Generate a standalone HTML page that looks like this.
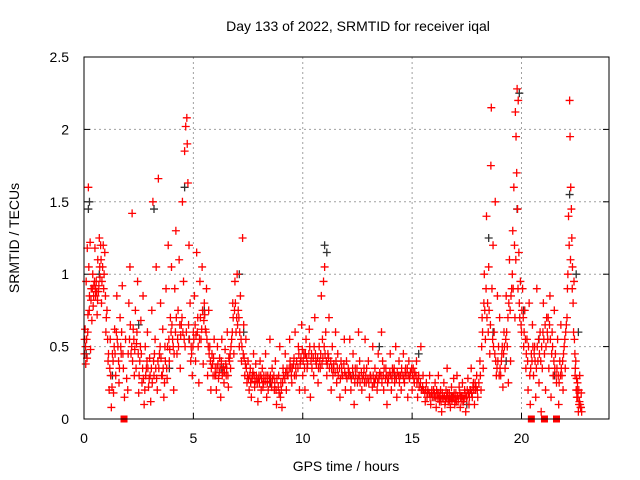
<!DOCTYPE html>
<html><head><meta charset="utf-8"><title>SRMTID iqal</title>
<style>
html,body{margin:0;padding:0;background:#fff;}
svg{display:block;font-family:"Liberation Sans",sans-serif;}
</style></head>
<body>
<svg id="chart" width="640" height="480" viewBox="0 0 640 480" xmlns="http://www.w3.org/2000/svg">
<rect x="0" y="0" width="640" height="480" fill="#fff"/>
<text x="358" y="31" font-size="14" text-anchor="middle" fill="#000">Day 133 of 2022, SRMTID for receiver iqal</text>
<g id="grid"></g>
<g id="ticks"></g>
<g id="marks"></g>
<rect x="84" y="57" width="525" height="362" fill="none" stroke="#000" stroke-width="1"/>
<text x="346" y="471" font-size="14" text-anchor="middle">GPS time / hours</text>
<text transform="translate(19,238) rotate(-90)" font-size="14" text-anchor="middle">SRMTID / TECUs</text>
</svg>
<script>
const xTicks=[0,5,10,15,20];
const yTicks=[0,0.5,1,1.5,2,2.5];
const yTickLabels=["0","0.5","1","1.5","2","2.5"];
const redSquares=[1.83,20.45,21.05,21.6];
const blackPts=[[0.1,0.45],[0.2,1.45],[0.25,1.5],[0.7,1.0],[1.3,0.3],[2.5,0.65],[3.2,1.45],[3.9,0.35],[4.6,1.6],[4.8,0.55],[5.5,0.75],[6.3,0.35],[7.1,1.0],[7.3,0.6],[8.5,0.25],[9.3,0.3],[11.0,1.2],[11.1,1.15],[12.3,0.3],[13.5,0.5],[14.2,0.3],[15.3,0.45],[16.0,0.15],[16.8,0.15],[17.5,0.1],[18.5,1.25],[18.7,0.6],[19.3,0.4],[19.8,1.45],[19.9,2.25],[20.1,0.75],[20.8,0.55],[21.5,0.3],[22.2,1.55],[22.5,1.0],[22.6,0.6]];
const redPts=[
[0.02,0.45],[0.05,0.62],[0.08,0.38],[0.1,0.95],[0.12,0.55],[0.15,1.18],[0.18,0.72],[0.2,1.6],[0.22,1.05],[0.25,0.85],[0.28,1.22],[0.3,0.48],[0.33,0.9],[0.36,0.68],[0.4,1.0],[0.42,0.78],[0.45,0.92],[0.5,1.18],[0.53,0.85],[0.56,0.95],[0.6,0.72],[0.63,1.1],[0.66,0.88],[0.7,1.25],[0.73,0.98],[0.76,1.2],[0.8,0.8],[0.85,1.05],[0.9,0.9],[0.95,1.15],[1.0,0.6],[1.05,0.75],[1.1,0.4],[1.15,0.2],[1.2,0.55],[1.25,0.08],[1.3,0.45],[1.35,0.18],[1.4,0.62],[1.45,0.3],[1.5,0.85],[1.55,0.5],[1.6,0.25],[1.65,0.7],[1.7,0.45],[1.75,0.92],[1.8,0.35],[1.85,0.15],[1.9,0.55],[1.95,0.28],
[2.0,0.2],[2.05,0.8],[2.1,1.05],[2.15,0.45],[2.2,1.42],[2.25,0.62],[2.3,0.3],[2.35,0.75],[2.4,0.52],[2.45,0.95],[2.5,0.18],[2.55,0.4],[2.6,0.68],[2.65,0.25],[2.7,0.85],[2.75,0.1],[2.8,0.5],[2.85,0.35],[2.9,0.6],[2.95,0.22],[3.0,0.42],[3.05,0.12],[3.1,0.75],[3.15,1.5],[3.2,0.3],[3.25,0.55],[3.3,1.05],[3.35,0.2],[3.4,1.66],[3.45,0.45],[3.5,0.8],[3.55,0.3],[3.6,0.62],[3.65,0.15],[3.7,0.5],[3.75,0.9],[3.8,0.28],[3.85,1.2],[3.9,0.4],[3.95,0.7],
[4.0,1.05],[4.05,0.55],[4.1,0.2],[4.15,0.9],[4.2,1.3],[4.25,0.45],[4.3,0.75],[4.35,1.1],[4.4,0.35],[4.45,0.65],[4.5,1.5],[4.55,0.95],[4.6,1.85],[4.65,2.02],[4.7,2.08],[4.72,1.9],[4.75,1.63],[4.8,1.2],[4.85,0.8],[4.9,0.5],[4.95,0.3],[5.0,0.6],[5.05,0.85],[5.1,0.4],[5.15,1.15],[5.2,0.7],[5.25,0.25],[5.3,0.95],[5.35,0.55],[5.4,1.05],[5.45,0.38],[5.5,0.8],[5.55,0.62],[5.6,0.9],[5.65,0.3],[5.7,0.75],[5.75,0.5],[5.8,0.2],[5.85,0.45],[5.9,0.3],[5.95,0.55],
[6.0,0.35],[6.05,0.2],[6.1,0.5],[6.15,0.28],[6.2,0.42],[6.25,0.15],[6.3,0.55],[6.35,0.32],[6.4,0.25],[6.45,0.48],[6.5,0.3],[6.55,0.6],[6.6,0.22],[6.65,0.4],[6.7,0.35],[6.75,0.55],[6.8,0.8],[6.85,0.45],[6.9,0.95],[6.95,0.6],[7.0,1.0],[7.05,0.75],[7.1,0.5],[7.15,0.85],[7.2,0.4],[7.25,1.25],[7.3,0.65],[7.35,0.3],[7.4,0.55],[7.45,0.25],[7.5,0.4],[7.55,0.2],[7.6,0.35],[7.65,0.15],[7.7,0.3],[7.75,0.45],[7.8,0.22],[7.85,0.38],[7.9,0.28],[7.95,0.12],
[8.0,0.3],[8.05,0.4],[8.1,0.2],[8.15,0.35],[8.2,0.25],[8.3,0.45],[8.35,0.15],[8.4,0.3],[8.5,0.55],[8.55,0.25],[8.6,0.35],[8.7,0.2],[8.75,0.4],[8.8,0.1],[8.9,0.3],[8.95,0.5],[9.0,0.25],[9.05,0.08],[9.1,0.35],[9.2,0.45],[9.25,0.2],[9.3,0.3],[9.4,0.55],[9.45,0.35],[9.5,0.25],[9.6,0.42],[9.65,0.6],[9.7,0.3],[9.8,0.5],[9.85,0.2],[9.9,0.4],[9.95,0.65],
[10.0,0.3],[10.05,0.45],[10.1,0.2],[10.15,0.55],[10.2,0.35],[10.3,0.62],[10.35,0.15],[10.4,0.45],[10.5,0.3],[10.55,0.7],[10.6,0.4],[10.7,0.25],[10.75,0.5],[10.8,0.35],[10.85,0.85],[10.9,0.55],[10.95,0.95],[11.0,1.05],[11.05,0.6],[11.1,0.3],[11.15,0.45],[11.2,0.7],[11.3,0.2],[11.35,0.5],[11.4,0.35],[11.5,0.6],[11.55,0.25],[11.6,0.45],[11.7,0.15],[11.75,0.4],[11.8,0.3],[11.9,0.55],[11.95,0.2],
[12.0,0.4],[12.1,0.3],[12.15,0.55],[12.2,0.2],[12.3,0.45],[12.35,0.1],[12.4,0.35],[12.5,0.25],[12.55,0.6],[12.6,0.4],[12.7,0.2],[12.8,0.35],[12.85,0.55],[12.9,0.25],[13.0,0.4],[13.05,0.15],[13.1,0.3],[13.2,0.5],[13.25,0.25],[13.3,0.35],[13.4,0.2],[13.45,0.45],[13.5,0.3],[13.6,0.6],[13.65,0.4],[13.7,0.2],[13.8,0.35],[13.85,0.1],[13.9,0.3],
[14.0,0.45],[14.05,0.2],[14.1,0.35],[14.2,0.25],[14.25,0.5],[14.3,0.15],[14.4,0.4],[14.45,0.3],[14.5,0.2],[14.6,0.45],[14.65,0.25],[14.7,0.35],[14.8,0.15],[14.85,0.4],[14.9,0.3],[15.0,0.2],[15.05,0.35],[15.1,0.25],[15.2,0.4],[15.25,0.15],[15.3,0.3],[15.4,0.5],[15.45,0.2],[15.5,0.3],[15.6,0.12],[15.65,0.25],[15.7,0.18],[15.8,0.3],[15.85,0.1],[15.9,0.2],
[16.0,0.15],[16.05,0.25],[16.1,0.08],[16.15,0.18],[16.2,0.3],[16.25,0.12],[16.3,0.2],[16.35,0.05],[16.4,0.15],[16.45,0.25],[16.5,0.1],[16.55,0.2],[16.6,0.35],[16.65,0.12],[16.7,0.18],[16.75,0.08],[16.8,0.22],[16.85,0.15],[16.9,0.28],[16.95,0.1],[17.0,0.18],[17.05,0.3],[17.1,0.12],[17.15,0.22],[17.2,0.08],[17.25,0.16],[17.3,0.25],[17.35,0.12],[17.4,0.2],[17.45,0.05],[17.5,0.15],[17.55,0.28],[17.6,0.1],[17.65,0.2],[17.7,0.35],[17.75,0.15],[17.8,0.25],[17.85,0.1],[17.9,0.2],[17.95,0.3],
[18.0,0.15],[18.05,0.25],[18.1,0.4],[18.15,0.2],[18.2,0.7],[18.25,0.35],[18.3,1.0],[18.35,0.55],[18.4,1.4],[18.45,0.8],[18.5,1.05],[18.55,0.45],[18.6,1.75],[18.62,2.15],[18.65,0.9],[18.7,1.2],[18.75,0.6],[18.8,1.5],[18.85,0.3],[18.9,0.85],[18.95,0.5],[19.0,0.7],[19.05,0.3],[19.1,0.45],[19.15,0.22],[19.2,0.6],[19.25,0.35],[19.3,0.85],[19.35,0.5],[19.4,0.25],[19.45,1.1],[19.5,0.4],[19.55,0.9],[19.6,1.3],[19.65,1.6],[19.7,0.7],[19.72,2.12],[19.75,1.95],[19.78,1.7],[19.8,2.28],[19.82,1.45],[19.85,2.2],[19.88,1.15],[19.9,0.8],[19.95,0.95],[20.0,0.6],[20.05,0.9],[20.1,0.5],[20.15,0.75],
[20.2,0.35],[20.25,0.55],[20.3,0.2],[20.35,0.8],[20.4,0.1],[20.45,0.45],[20.5,0.65],[20.55,0.3],[20.6,0.5],[20.65,0.15],[20.7,0.9],[20.75,0.4],[20.8,0.25],[20.85,0.6],[20.9,0.05],[20.95,0.35],[21.0,0.8],[21.05,0.45],[21.1,0.2],[21.15,0.7],[21.2,0.55],[21.25,0.35],[21.3,0.85],[21.35,0.15],[21.4,0.6],[21.45,0.3],[21.5,0.75],[21.55,0.45],[21.6,0.25],[21.65,0.55],[21.7,0.1],[21.75,0.4],[21.8,0.65],[21.85,0.3],[21.9,0.2],[21.95,0.5],
[22.0,0.35],[22.05,0.65],[22.1,0.9],[22.15,1.4],[22.2,2.2],[22.22,1.95],[22.25,1.6],[22.28,1.45],[22.3,1.25],[22.33,1.05],[22.36,0.8],[22.4,0.95],[22.42,0.55],[22.45,0.3],[22.48,0.4],[22.5,0.2],[22.53,0.15],[22.56,0.25],[22.6,0.05],[22.63,0.1],[22.66,0.3],[22.7,0.08],[22.73,0.18],[22.75,0.05]
];
const redPtsDense=[
[0.03,0.55],[0.07,0.5],[0.14,0.42],[0.17,0.6],[0.24,0.75],[0.32,0.82],[0.38,0.9],[0.44,0.85],[0.48,0.95],[0.52,0.9],[0.58,0.88],[0.62,0.82],[0.68,0.92],[0.72,1.05],[0.78,1.1],[0.82,0.95],[0.88,1.2],[0.92,1.0],[0.98,0.85],[1.02,0.7],[1.08,0.55],[1.12,0.45],[1.18,0.35],[1.22,0.3],[1.28,0.22],[1.33,0.4],[1.38,0.5],[1.42,0.45],[1.48,0.6],[1.52,0.55],[1.58,0.4],[1.62,0.35],[1.68,0.5],[1.72,0.6],[1.78,0.45],
[2.02,0.45],[2.08,0.55],[2.12,0.65],[2.18,0.5],[2.22,0.4],[2.28,0.55],[2.32,0.48],[2.38,0.35],[2.42,0.6],[2.48,0.45],[2.52,0.3],[2.58,0.5],[2.62,0.45],[2.68,0.35],[2.72,0.28],[2.78,0.2],[2.82,0.3],[2.88,0.4],[2.92,0.35],[2.98,0.28],[3.02,0.3],[3.08,0.35],[3.12,0.25],[3.18,0.4],[3.22,0.45],[3.28,0.35],[3.32,0.28],[3.38,0.4],[3.42,0.35],[3.48,0.5],[3.52,0.42],[3.58,0.3],[3.62,0.35],[3.68,0.25],[3.72,0.4],[3.78,0.35],[3.82,0.5],[3.88,0.55],[3.92,0.48],[3.98,0.6],
[4.02,0.65],[4.08,0.5],[4.12,0.45],[4.18,0.6],[4.22,0.7],[4.28,0.55],[4.32,0.5],[4.38,0.65],[4.42,0.58],[4.48,0.7],[4.52,0.6],[4.58,0.55],[4.62,0.5],[4.68,0.6],[4.78,0.65],[4.82,0.55],[4.88,0.4],[4.92,0.45],[4.98,0.5],[5.02,0.55],[5.08,0.65],[5.12,0.58],[5.18,0.6],[5.22,0.5],[5.28,0.55],[5.32,0.7],[5.38,0.62],[5.42,0.75],[5.48,0.68],[5.52,0.72],[5.58,0.6],[5.62,0.55],[5.68,0.5],[5.72,0.45],[5.78,0.4],[5.82,0.35],[5.88,0.38],[5.92,0.42],[5.98,0.3],
[6.02,0.3],[6.08,0.35],[6.12,0.38],[6.18,0.32],[6.22,0.35],[6.28,0.4],[6.32,0.3],[6.38,0.36],[6.42,0.32],[6.48,0.38],[6.52,0.35],[6.58,0.3],[6.62,0.42],[6.68,0.45],[6.72,0.5],[6.78,0.6],[6.82,0.7],[6.88,0.75],[6.92,0.8],[6.98,0.7],[7.02,0.65],[7.08,0.7],[7.12,0.6],[7.18,0.55],[7.22,0.5],[7.28,0.45],[7.32,0.42],[7.38,0.38],[7.42,0.35],[7.48,0.3],[7.52,0.28],[7.58,0.3],[7.62,0.25],[7.68,0.28],[7.72,0.32],[7.78,0.3],[7.82,0.26],[7.88,0.3],[7.92,0.25],[7.98,0.28],
[8.02,0.25],[8.08,0.3],[8.12,0.28],[8.18,0.22],[8.22,0.3],[8.28,0.26],[8.32,0.3],[8.38,0.25],[8.42,0.2],[8.48,0.28],[8.52,0.3],[8.58,0.22],[8.62,0.28],[8.68,0.3],[8.72,0.25],[8.78,0.2],[8.82,0.28],[8.88,0.22],[8.92,0.18],[8.98,0.15],[9.02,0.2],[9.08,0.25],[9.12,0.3],[9.18,0.28],[9.22,0.32],[9.28,0.35],[9.32,0.3],[9.38,0.35],[9.42,0.4],[9.48,0.3],[9.52,0.35],[9.58,0.38],[9.62,0.3],[9.68,0.35],[9.72,0.4],[9.78,0.35],[9.82,0.45],[9.88,0.38],[9.92,0.42],[9.98,0.48],
[10.02,0.4],[10.08,0.35],[10.12,0.45],[10.18,0.42],[10.22,0.38],[10.28,0.45],[10.32,0.5],[10.38,0.4],[10.42,0.35],[10.48,0.42],[10.52,0.5],[10.58,0.45],[10.62,0.38],[10.68,0.42],[10.72,0.35],[10.78,0.4],[10.82,0.45],[10.88,0.38],[10.92,0.42],[10.98,0.5],[11.02,0.45],[11.08,0.4],[11.12,0.38],[11.18,0.42],[11.22,0.35],[11.28,0.4],[11.32,0.35],[11.38,0.3],[11.42,0.38],[11.48,0.32],[11.52,0.4],[11.58,0.35],[11.62,0.3],[11.68,0.35],[11.72,0.28],[11.78,0.35],[11.82,0.3],[11.88,0.38],[11.92,0.32],[11.98,0.3],
[12.02,0.28],[12.08,0.35],[12.12,0.32],[12.18,0.3],[12.22,0.28],[12.28,0.35],[12.32,0.3],[12.38,0.25],[12.42,0.3],[12.48,0.35],[12.52,0.28],[12.58,0.3],[12.62,0.25],[12.68,0.32],[12.72,0.28],[12.78,0.3],[12.82,0.25],[12.88,0.3],[12.92,0.35],[12.98,0.28],[13.02,0.25],[13.08,0.3],[13.12,0.28],[13.18,0.22],[13.22,0.3],[13.28,0.25],[13.32,0.28],[13.38,0.3],[13.42,0.25],[13.48,0.28],[13.52,0.32],[13.58,0.3],[13.62,0.25],[13.68,0.3],[13.72,0.35],[13.78,0.28],[13.82,0.3],[13.88,0.25],[13.92,0.28],[13.98,0.32],
[14.02,0.3],[14.08,0.28],[14.12,0.32],[14.18,0.35],[14.22,0.3],[14.28,0.28],[14.32,0.32],[14.38,0.3],[14.42,0.25],[14.48,0.3],[14.52,0.35],[14.58,0.3],[14.62,0.28],[14.68,0.32],[14.72,0.3],[14.78,0.35],[14.82,0.3],[14.88,0.28],[14.92,0.32],[14.98,0.35],[15.02,0.3],[15.08,0.28],[15.12,0.32],[15.18,0.3],[15.22,0.25],[15.28,0.28],[15.32,0.22],[15.38,0.25],[15.42,0.2],[15.48,0.22],[15.52,0.2],[15.58,0.18],[15.62,0.2],[15.68,0.15],[15.72,0.2],[15.78,0.18],[15.82,0.15],[15.88,0.18],[15.92,0.15],[15.98,0.2],
[16.02,0.18],[16.08,0.15],[16.12,0.2],[16.18,0.14],[16.22,0.18],[16.28,0.15],[16.32,0.12],[16.38,0.18],[16.42,0.14],[16.48,0.16],[16.52,0.12],[16.58,0.15],[16.62,0.18],[16.68,0.14],[16.72,0.12],[16.78,0.16],[16.82,0.13],[16.88,0.15],[16.92,0.18],[16.98,0.14],[17.02,0.12],[17.08,0.16],[17.12,0.14],[17.18,0.18],[17.22,0.15],[17.28,0.12],[17.32,0.16],[17.38,0.14],[17.42,0.18],[17.48,0.15],[17.52,0.2],[17.58,0.18],[17.62,0.15],[17.68,0.2],[17.72,0.18],[17.78,0.22],[17.82,0.2],[17.88,0.25],[17.92,0.22],[17.98,0.2],
[18.12,0.3],[18.18,0.5],[18.22,0.6],[18.28,0.8],[18.32,0.75],[18.38,0.9],[18.42,0.7],[18.48,0.6],[18.52,0.75],[18.58,0.65],[18.68,0.55],[18.72,0.5],[18.78,0.45],[18.82,0.4],[18.88,0.35],[18.92,0.4],[18.98,0.3],[19.02,0.35],[19.08,0.4],[19.12,0.5],[19.18,0.45],[19.22,0.5],[19.28,0.55],[19.32,0.6],[19.38,0.7],[19.42,0.8],[19.48,0.75],[19.52,0.85],[19.58,1.0],[19.62,0.9],[19.68,1.2],[19.74,1.1],[19.84,0.9],[19.92,0.7],[19.98,0.65],[20.02,0.75],[20.08,0.7],[20.12,0.6],[20.18,0.55],
[20.22,0.45],[20.28,0.4],[20.32,0.5],[20.38,0.3],[20.42,0.35],[20.48,0.4],[20.52,0.5],[20.58,0.45],[20.62,0.4],[20.68,0.35],[20.72,0.5],[20.78,0.55],[20.82,0.45],[20.88,0.4],[20.92,0.5],[20.98,0.6],[21.02,0.55],[21.08,0.65],[21.12,0.5],[21.18,0.6],[21.22,0.7],[21.28,0.65],[21.32,0.55],[21.38,0.45],[21.42,0.5],[21.48,0.4],[21.52,0.35],[21.58,0.3],[21.62,0.35],[21.68,0.3],[21.72,0.25],[21.78,0.3],[21.82,0.35],[21.88,0.4],[21.92,0.45],[21.98,0.55],
[22.02,0.6],[22.08,0.7],[22.12,1.0],[22.18,1.2],[22.24,1.1],[22.32,0.9],[22.38,0.6],[22.44,0.45],[22.46,0.35],[22.52,0.28],[22.55,0.2],[22.58,0.15],[22.62,0.2],[22.65,0.12],[22.68,0.1],[22.72,0.08]
];
const NS="http://www.w3.org/2000/svg";
const X0=84,X1=609,Y0=419,Y1=57,XMAX=24,YMAX=2.5;
function xs(t){return X0+(X1-X0)*t/XMAX;}
function ys(v){return Y0-(Y0-Y1)*v/YMAX;}
function mk(tag,attrs,parent){const e=document.createElementNS(NS,tag);for(const k in attrs)e.setAttribute(k,attrs[k]);parent.appendChild(e);return e;}
const grid=document.getElementById('grid'),ticks=document.getElementById('ticks'),marks=document.getElementById('marks');
xTicks.forEach((t,i)=>{
  const x=xs(t);
  if(t>0){const g=mk('line',{x1:x,y1:Y0,x2:x,y2:Y1,stroke:'#a0a0a0','stroke-dasharray':'2,3','stroke-width':1},grid);
  
  }
  const tk=mk('line',{x1:x,y1:Y0,x2:x,y2:Y0-6,stroke:'#000'},ticks);
  
  
  const lb=mk('text',{x:x,y:Y0+24,'font-size':14,'text-anchor':'middle'},ticks);
  lb.textContent=String(t);
  
  
});
yTicks.forEach((v,i)=>{
  const y=ys(v);
  if(v>0&&v<YMAX){const g=mk('line',{x1:X0,y1:y,x2:X1,y2:y,stroke:'#a0a0a0','stroke-dasharray':'2,3','stroke-width':1},grid);
  
  }
  const tk=mk('line',{x1:X0,y1:y,x2:X0+6,y2:y,stroke:'#000'},ticks);
  
  
  const tk2=mk('line',{x1:X1,y1:y,x2:X1-6,y2:y,stroke:'#000'},ticks);
  
  
  const lb=mk('text',{x:X0-15,y:y+5,'font-size':14,'text-anchor':'end'},ticks);
  lb.textContent=yTickLabels[i];
  
  
});
function plus(t,v,col,name){
  const x=xs(t),y=ys(v);
  const p=mk('path',{d:`M${x-4},${y}h8M${x},${y-4}v8`,stroke:col,'stroke-width':1.3,fill:'none'},marks);
  
  
}
blackPts.forEach(p=>plus(p[0],p[1],'#333','black-point'));
redPts.forEach(p=>plus(p[0],p[1],'#ff0000','red-point'));
redPtsDense.forEach(p=>plus(p[0],p[1],'#ff0000','red-point'));
redSquares.forEach(t=>{
  const s=mk('rect',{x:xs(t)-3.5,y:Y0-3.5,width:7,height:7,fill:'#ff0000'},marks);
  
  
});
</script>
</body></html>
